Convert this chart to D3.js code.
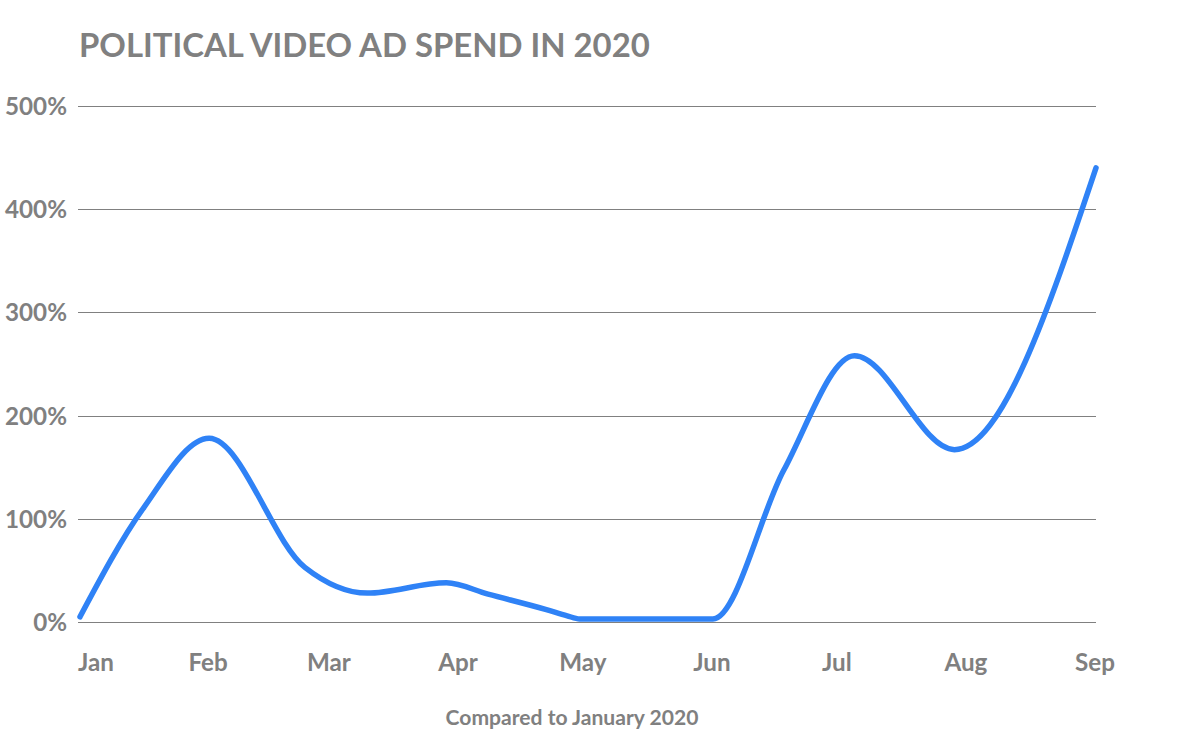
<!DOCTYPE html>
<html>
<head>
<meta charset="utf-8">
<script src="https://cdn.jsdelivr.net/npm/d3@7"></script>
<style>
	html, body { margin: 0; padding: 0; background: #fff; }
	svg { display: block; }
	text { font-family: 'Lato', 'Open Sans', sans-serif; font-weight: 700; fill: #808080; }
</style>
</head>
<body>
<div id="chart"></div>
<script>
(function() {
	'use strict';

	// DATA //

	var DATES = [
		'2020-01-01', '2020-01-16', '2020-02-01', '2020-02-24', '2020-03-10',
		'2020-03-29', '2020-04-08', '2020-04-22', '2020-04-27', '2020-04-30',
		'2020-06-01', '2020-06-18', '2020-07-05', '2020-07-29', '2020-09-01'
	];
	var VALUES = [ 5, 109, 178, 53, 28, 38, 27, 12, 6, 3, 3, 147, 258, 167, 440 ];

	var MONTHS = [ 'Jan', 'Feb', 'Mar', 'Apr', 'May', 'Jun', 'Jul', 'Aug', 'Sep' ];
	var Y_TICKS = [ 0, 100, 200, 300, 400, 500 ];

	var TITLE = 'POLITICAL VIDEO AD SPEND IN 2020',
		NOTE = 'Compared to January 2020';


	// VARIABLES //

	var WIDTH = 1200,
		HEIGHT = 750,
		LEFT = 80,
		RIGHT = 1096,
		TOP = 106,
		BOTTOM = 622,
		GREY = '#808080',
		BLUE = '#2f82f6';

	var parse = d3.timeParse( '%Y-%m-%d' );

	var data = DATES.map( function ( d, i ) {
		return { date: parse( d ), value: VALUES[ i ] };
	});

	var x = d3.scaleTime()
		.domain( [ parse( '2020-01-01' ), parse( '2020-09-01' ) ] )
		.range( [ LEFT, RIGHT ] );

	var y = d3.scaleLinear()
		.domain( [ 0, 500 ] )
		.range( [ BOTTOM, TOP ] );

	/**
	* FUNCTION: fit( sel, size, target )
	*	Rescales a text's font size so it spans the target width.
	*/
	function fit( sel, size, target ) {
		sel.style( 'font-size', size + 'px' );
		var w = sel.node().getComputedTextLength();
		sel.style( 'font-size', ( size * target / w ) + 'px' );
		return size * target / w;
	}


	// CANVAS //

	var svg = d3.select( '#chart' ).append( 'svg' )
		.attr( 'width', WIDTH )
		.attr( 'height', HEIGHT );

	// Title:
	var title = svg.append( 'text' )
		.attr( 'x', 79 )
		.attr( 'y', 57 )
		.text( TITLE );
	fit( title, 36, 571 );

	// Grid lines:
	svg.append( 'g' )
		.selectAll( 'line' )
		.data( Y_TICKS )
	  .enter().append( 'line' )
		.attr( 'x1', LEFT - 2 )
		.attr( 'x2', RIGHT )
		.attr( 'y1', function ( d ) { return Math.round( y( d ) ) + 0.5; })
		.attr( 'y2', function ( d ) { return Math.round( y( d ) ) + 0.5; })
		.attr( 'stroke', GREY )
		.attr( 'stroke-width', 1.2 );

	// Y labels:
	var yl = svg.append( 'g' )
		.selectAll( 'text' )
		.data( Y_TICKS )
	  .enter().append( 'text' )
		.attr( 'x', 67 )
		.attr( 'y', function ( d ) { return y( d ) + 9; })
		.attr( 'text-anchor', 'end' )
		.text( function ( d ) { return d + '%'; });
	var ys = fit( yl.filter( function ( d ) { return d === 500; }), 24, 62 );
	yl.style( 'font-size', ys + 'px' );

	// X labels:
	svg.append( 'g' )
		.selectAll( 'text' )
		.data( MONTHS )
	  .enter().append( 'text' )
		.attr( 'x', function ( d, i ) {
			var px = x( new Date( 2020, i, 1 ) );
			return i === 0 ? px - 2 : px - 1;
		})
		.attr( 'y', 671 )
		.attr( 'text-anchor', function ( d, i ) { return i === 0 ? 'start' : 'middle'; })
		.style( 'font-size', ys + 'px' )
		.text( function ( d ) { return d; });

	// Note:
	var note = svg.append( 'text' )
		.attr( 'x', 572 )
		.attr( 'y', 725 )
		.attr( 'text-anchor', 'middle' )
		.text( NOTE );
	fit( note, 20, 253 );

	// Line:
	var line = d3.line()
		.x( function ( d ) { return x( d.date ); })
		.y( function ( d ) { return y( d.value ); })
		.curve( d3.curveMonotoneX );

	svg.append( 'path' )
		.datum( data )
		.attr( 'd', line )
		.attr( 'fill', 'none' )
		.attr( 'stroke', BLUE )
		.attr( 'stroke-width', 5.5 )
		.attr( 'stroke-linecap', 'round' )
		.attr( 'stroke-linejoin', 'round' );

})();
</script>
</body>
</html>
